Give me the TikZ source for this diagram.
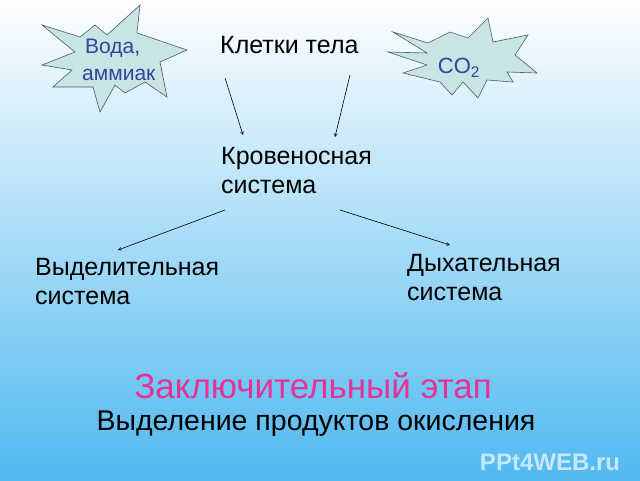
\documentclass[tikz,border=0pt]{standalone}
\usepackage{fontspec}
\setmainfont{Liberation Sans}
\definecolor{bgb}{RGB}{80,185,240}
\definecolor{starf}{RGB}{200,228,228}
\definecolor{stard}{RGB}{80,90,100}
\definecolor{blu}{RGB}{46,70,150}
\definecolor{mag}{RGB}{230,50,150}
\definecolor{wmc}{RGB}{200,230,250}
\begin{document}
\begin{tikzpicture}[x=1pt,y=-1pt,
  txt/.style={anchor=north west,align=left,inner sep=0pt,font=\fontsize{25}{29}\selectfont},
  stxt/.style={anchor=west,inner sep=0pt,font=\fontsize{21}{24}\selectfont,text=blu},
  star/.style={fill=starf,draw=stard,line width=0.6pt},
  arr/.style={-stealth,line width=0.6pt}]
\useasboundingbox (0,0) rectangle (640,480);
\shade[top color=white,bottom color=bgb] (0,0) rectangle (640,480);
\draw[star] (42,25)--(80,37)--(95,25)--(107,35)--(140,5)--(137,33)--(187,50)--(160,62)--(167,97)--(145,82)--(125,93)--(115,85)--(100,112)--(93,87)--(53,87)--(72,70)--(42,65)--(75,52)--cycle;
\draw[star] (393,32)--(428,43)--(450,32)--(468,38)--(488,18)--(493,42)--(528,35)--(515,55)--(537,73)--(507,72)--(513,82)--(487,80)--(478,98)--(463,82)--(452,95)--(440,82)--(403,73)--(427,65)--(388,52)--(427,53)--cycle;
\node[stxt] (voda) at (85,48) {Вода,};
\node[stxt] (amm) at (82,75) {аммиак};
\node[inner sep=0pt,font=\fontsize{22}{24}\selectfont,text=blu] (co2) at (459,68) {CO\textsubscript{2}};
\node[txt] (kl) at (220,36) {Клетки тела};
\node[txt] (kr) at (221,147) {Кровеносная\\система};
\node[txt] (vy) at (35,258) {Выделительная\\система};
\node[txt] (dy) at (407,254) {Дыхательная\\система};
\coordinate (a1) at (225,78); \coordinate (b1) at (243,135);
\coordinate (a2) at (350,75); \coordinate (b2) at (335,137);
\coordinate (a3) at (225,210); \coordinate (b3) at (118,250);
\coordinate (a4) at (340,210); \coordinate (b4) at (450,245);
\draw[arr] (a1)--(b1); \draw[arr] (a2)--(b2);
\draw[arr] (a3)--(b3); \draw[arr] (a4)--(b4);
\node[inner sep=0pt,font=\fontsize{35}{38}\selectfont,text=mag] (t1) at (313,386) {Заключительный этап};
\node[inner sep=0pt,font=\fontsize{28.5}{30}\selectfont] (t2) at (316,424) {Выделение продуктов окисления};
\node[inner sep=0pt,font=\bfseries\fontsize{24}{26}\selectfont,text=wmc] (wm) at (550,462) {PPt4WEB.ru};
\end{tikzpicture}
\end{document}
